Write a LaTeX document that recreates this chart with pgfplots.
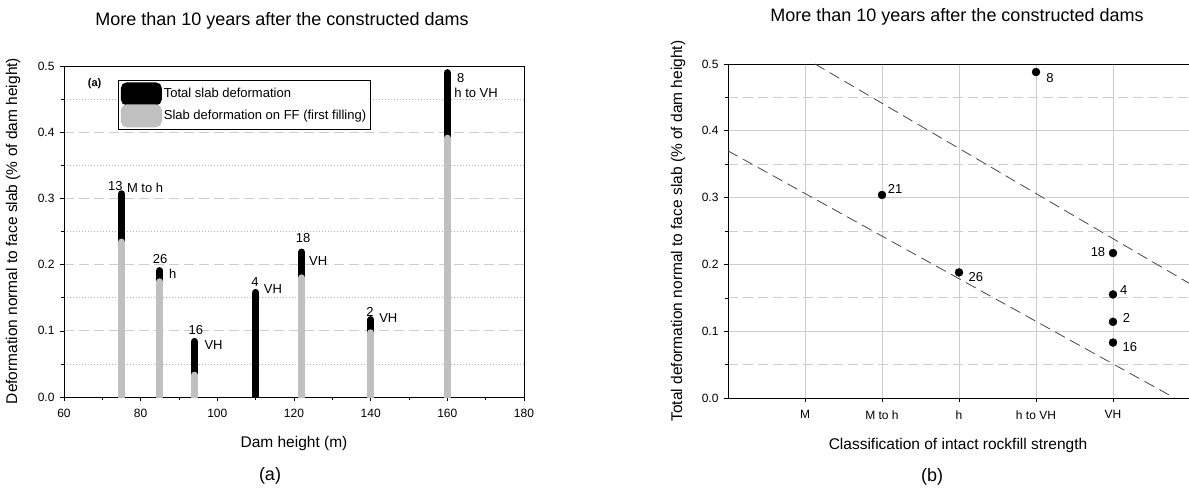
\documentclass[border=0pt]{standalone}
\usepackage{fontspec}
\setmainfont{Liberation Sans}
\usepackage{pgfplots}
\pgfplotsset{compat=1.18}

\definecolor{bargray}{RGB}{192,192,192}
\definecolor{gridgray}{RGB}{205,205,205}
\definecolor{fitgray}{RGB}{70,70,70}

\newcommand{\tickfont}{\fontsize{12}{14}\selectfont}
\newcommand{\annfont}{\fontsize{13}{15}\selectfont}
\newcommand{\labfont}{\fontsize{15.5}{18}\selectfont}

\pgfplotsset{
  panel/.style={
    scale only axis,
    ymin=0, ymax=0.5,
    ytick={0,0.1,0.2,0.3,0.4,0.5},
    minor y tick num=1,
    tick align=outside,
    major tick length=4pt, minor tick length=3pt,
    tick style={black, line width=0.6pt},
    axis line style={line width=0.8pt},
    ticklabel style={font=\tickfont},
    xticklabel style={yshift=-5pt},
    yticklabel style={xshift=-2pt},
    /pgf/number format/assume math mode=true,
    yticklabel style={/pgf/number format/.cd, fixed, fixed zerofill, precision=1},
    ytick pos=left, xtick pos=bottom,
    clip=true,
  },
}

\begin{document}
\begin{tikzpicture}
\useasboundingbox (0pt,0pt) rectangle (1189pt,491pt);

% ---------- panel (a)
\begin{axis}[panel,
  at={(64pt,94pt)}, anchor=south west,
  width=460pt, height=331pt,
  xmin=60, xmax=180,
  xtick={60,80,100,120,140,160,180}, minor x tick num=1,
  ymajorgrids, yminorgrids,
  major grid style={gridgray, line width=0.8pt, dash pattern=on 10pt off 5pt},
  minor grid style={gray!60, line width=0.5pt, dash pattern=on 1pt off 2pt},
  legend style={at={(axis cs:74.2,0.479)}, anchor=north west, draw=black,
    line width=0.8pt, font=\annfont, inner sep=2pt, row sep=-1pt,
    cells={anchor=west}},
]
\addplot[ycomb, black, line width=7pt, line cap=round, no marks,
  legend image code/.code={\fill[black, rounded corners=3pt] (0pt,-8pt) rectangle (34pt,8pt);}]
  coordinates {(75,0.307) (85,0.191) (94,0.084) (110,0.158) (122,0.219) (140,0.117) (160,0.490)};
\addlegendentry{Total slab deformation}
\addplot[ycomb, bargray, line width=7pt, line cap=round, no marks,
  legend image code/.code={\fill[bargray, rounded corners=3pt] (0pt,-8pt) rectangle (34pt,8pt);}]
  coordinates {(75,0.234) (85,0.174) (94,0.033) (122,0.180) (140,0.097) (160,0.391)};
\addlegendentry{Slab deformation on FF (first filling)}

\node[anchor=base west, font=\fontsize{11}{13}\selectfont\bfseries, inner sep=0] at (axis cs:66.2,0.469) {(a)};
\begin{scope}[font=\annfont]
\node[anchor=base, inner sep=0] at (axis cs:73.4,0.312) {13};
\node[anchor=base west, inner sep=0] at (axis cs:76.4,0.309) {M to h};
\node[anchor=base, inner sep=0] at (axis cs:85.1,0.202) {26};
\node[anchor=base west, inner sep=0] at (axis cs:87.4,0.179) {h};
\node[anchor=base, inner sep=0] at (axis cs:94.4,0.094) {16};
\node[anchor=base west, inner sep=0] at (axis cs:96.6,0.072) {VH};
\node[anchor=base, inner sep=0] at (axis cs:109.8,0.167) {4};
\node[anchor=base west, inner sep=0] at (axis cs:112.1,0.156) {VH};
\node[anchor=base, inner sep=0] at (axis cs:122.4,0.233) {18};
\node[anchor=base west, inner sep=0] at (axis cs:123.9,0.199) {VH};
\node[anchor=base, inner sep=0] at (axis cs:139.8,0.121) {2};
\node[anchor=base west, inner sep=0] at (axis cs:142.2,0.112) {VH};
\node[anchor=base, inner sep=0] at (axis cs:163.5,0.475) {8};
\node[anchor=base west, inner sep=0] at (axis cs:161.8,0.452) {h to VH};
\end{scope}
\end{axis}

% ---------- panel (b)
\begin{axis}[panel,
  at={(728pt,93pt)}, anchor=south west,
  width=462pt, height=334pt,
  xmin=0, xmax=6,
  xtick={1,2,3,4,5},
  xticklabels={M, M to h, h, h to VH, VH},
  xmajorgrids, ymajorgrids, yminorgrids,
  major grid style={gridgray, line width=0.8pt},
  minor grid style={gridgray, line width=0.8pt, dash pattern=on 10pt off 5pt},
]
\addplot[fitgray, line width=0.8pt, dash pattern=on 11pt off 6pt] coordinates {(1.13,0.5) (6,0.171)};
\addplot[fitgray, line width=0.8pt, dash pattern=on 11pt off 6pt] coordinates {(0,0.37) (5.8,0)};
\addplot[only marks, mark=*, mark size=4pt, black] coordinates {
  (2,0.304) (3,0.188) (4,0.488) (5,0.217) (5,0.155) (5,0.114) (5,0.083)};
\begin{scope}[font=\annfont]
\node[anchor=base, inner sep=0] at (axis cs:2.17,0.306) {21};
\node[anchor=base, inner sep=0] at (axis cs:3.22,0.174) {26};
\node[anchor=base, inner sep=0] at (axis cs:4.18,0.473) {8};
\node[anchor=base, inner sep=0] at (axis cs:4.805,0.212) {18};
\node[anchor=base, inner sep=0] at (axis cs:5.14,0.155) {4};
\node[anchor=base, inner sep=0] at (axis cs:5.175,0.113) {2};
\node[anchor=base, inner sep=0] at (axis cs:5.22,0.069) {16};
\end{scope}
\end{axis}

% ---------- titles, axis labels, captions
\node[font=\fontsize{18}{21}\selectfont] at (282pt,470pt) {More than 10 years after the constructed dams};
\node[font=\fontsize{18}{21}\selectfont] at (957pt,474pt) {More than 10 years after the constructed dams};
\node[font=\labfont] at (294pt,48pt) {Dam height (m)};
\node[font=\labfont] at (958pt,46pt) {Classification of intact rockfill strength};
\node[font=\labfont, rotate=90] at (13pt,260pt) {Deformation normal to face slab (\% of dam height)};
\node[font=\labfont, rotate=90] at (678pt,260pt) {Total deformation normal to face slab (\% of dam height)};
\node[font=\fontsize{18}{21}\selectfont] at (270pt,15pt) {(a)};
\node[font=\fontsize{18}{21}\selectfont] at (932pt,14pt) {(b)};
\end{tikzpicture}
\end{document}
